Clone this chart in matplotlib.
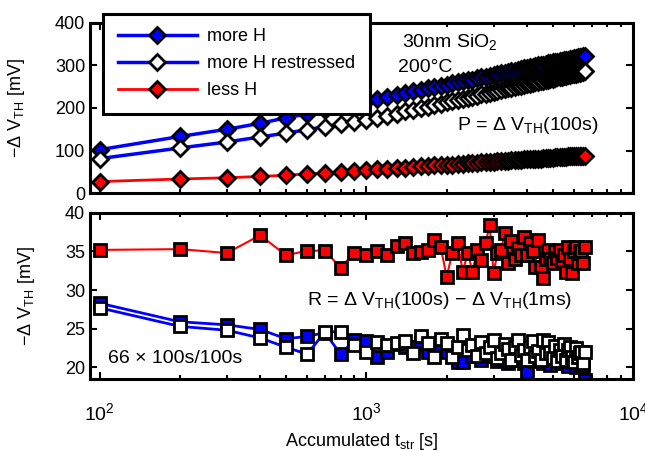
import numpy as np
import matplotlib
matplotlib.use("Agg")
import matplotlib.pyplot as plt
from matplotlib.ticker import LogLocator, NullFormatter

plt.rcParams['font.family'] = ['Liberation Sans', 'DejaVu Sans']
plt.rcParams['mathtext.fontset'] = 'custom'
plt.rcParams['mathtext.rm'] = 'Liberation Sans'
plt.rcParams['mathtext.it'] = 'Liberation Sans:italic'
plt.rcParams['mathtext.bf'] = 'Liberation Sans:bold'

# accumulated stress time, 66 x 100 s
t_str = np.arange(1, 67) * 100

# permanent part P = dVth(100s) [mV]
p_more_h = [102, 133, 150, 164, 177, 186, 195, 203, 210, 216, 221, 226, 231, 235,
            239, 243, 246, 249, 252, 255, 258, 260, 263, 265, 267, 270, 272, 274,
            276, 278, 280, 282, 283, 285, 287, 288, 290, 291, 293, 294, 296, 297,
            298, 300, 301, 302, 303, 305, 306, 307, 308, 309, 310, 311, 312, 313,
            314, 315, 316, 317, 318, 319, 320, 321, 322, 323]
p_restressed = [81, 106, 120, 132, 141, 149, 156, 162, 167, 172, 177, 182, 187, 192,
                196, 200, 203, 207, 210, 213, 216, 219, 222, 224, 227, 229, 232, 234,
                236, 238, 240, 242, 244, 246, 247, 249, 251, 252, 254, 256, 257, 258,
                260, 261, 263, 264, 265, 267, 268, 269, 270, 272, 273, 274, 275, 276,
                277, 278, 279, 280, 281, 282, 283, 284, 285, 286]
p_less_h = [27, 33, 36, 39, 42, 45, 47, 50, 52, 54, 56, 57, 59, 60,
            61, 63, 64, 65, 66, 67, 67, 68, 69, 70, 71, 71, 72, 73,
            73, 74, 75, 75, 76, 76, 77, 77, 78, 78, 79, 79, 80, 80,
            81, 81, 81, 82, 82, 83, 83, 83, 84, 84, 84, 85, 85, 85,
            86, 86, 86, 87, 87, 87, 88, 88, 88, 88]

# recoverable part R = dVth(100s) - dVth(1ms) [mV]
r_more_h = [28.3, 25.9, 25.5, 24.9, 23.7, 24.0, 24.5, 21.7, 23.5, 23.4, 21.3, 22.0,
            23.0, 22.6, 22.6, 23.2, 22.0, 23.0, 22.8, 22.0, 21.8, 20.7, 20.7, 22.5,
            21.5, 22.8, 21.0, 22.2, 21.5, 22.3, 20.8, 21.5, 22.0, 20.6, 21.8, 22.5,
            21.0, 21.9, 20.5, 19.4, 21.6, 22.3, 20.8, 21.2, 22.0, 20.5, 21.7, 22.2,
            20.3, 21.5, 22.0, 20.9, 21.4, 22.4, 20.6, 21.2, 20.2, 21.8, 20.8, 21.3,
            20.1, 21.5, 20.4, 20.9, 20.2, 18.3]
r_restressed = [27.7, 25.3, 24.8, 23.8, 22.6, 21.7, 24.6, 24.6, 22.9, 22.0, 23.3, 22.9,
                23.1, 23.4, 21.8, 24.0, 23.1, 21.3, 23.7, 23.1, 21.3, 22.6, 24.2, 22.2,
                22.9, 21.5, 23.3, 21.8, 22.6, 23.6, 21.2, 21.8, 23.0, 22.4, 21.0, 22.6,
                23.5, 21.6, 22.3, 21.0, 22.6, 23.4, 21.5, 22.1, 20.9, 23.6, 21.8, 23.3,
                22.0, 21.2, 22.7, 20.8, 22.2, 21.5, 23.0, 21.0, 22.3, 22.6, 21.4, 20.7,
                22.5, 21.3, 21.9, 22.0, 20.5, 22.0]
r_less_h = [35.2, 35.3, 34.8, 37.1, 34.5, 35.1, 35.1, 32.9, 34.8, 34.5, 35.1, 34.5,
            35.7, 36.1, 34.8, 34.9, 35.2, 36.5, 35.6, 31.7, 34.8, 36.1, 32.4, 34.8,
            32.4, 35.2, 33.9, 36.1, 38.4, 32.2, 34.8, 35.2, 37.4, 33.5, 36.3, 34.0,
            35.5, 34.5, 36.9, 34.5, 36.1, 35.0, 33.0, 36.5, 33.0, 31.6, 34.0, 35.2,
            34.0, 33.5, 35.0, 34.2, 35.2, 33.8, 34.5, 32.4, 35.6, 34.0, 32.2, 35.0,
            35.6, 33.5, 34.8, 35.0, 33.5, 35.6]

fig = plt.figure(figsize=(6.45, 4.5), dpi=100)
ax1 = fig.add_axes([0.1395, 0.571, 0.842, 0.378])
ax2 = fig.add_axes([0.1395, 0.158, 0.842, 0.369])

dkw = dict(marker='D', ms=8.5, mew=2, mec='k')
ax1.plot(t_str, p_more_h, color='b', lw=2.5, mfc='b', label='more H', **dkw)
ax1.plot(t_str, p_restressed, color='b', lw=2.5, mfc='w', label='more H restressed', **dkw)
ax1.plot(t_str, p_less_h, color='r', lw=2, mfc='r', label='less H', **dkw)

skw = dict(marker='s', ms=8, mew=2, mec='k')
ax2.plot(t_str, r_more_h, color='b', lw=2, mfc='b', **skw)
ax2.plot(t_str, r_restressed, color='b', lw=2, mfc='w', **skw)
ax2.plot(t_str, r_less_h, color='r', lw=1.5, mfc='r', **skw)

for ax in (ax1, ax2):
    ax.set_xscale('log')
    ax.set_xlim(92, 1e4)
    ax.xaxis.set_major_locator(LogLocator(base=10, numticks=5))
    ax.xaxis.set_minor_locator(LogLocator(base=10, subs=np.arange(2, 10), numticks=10))
    ax.xaxis.set_minor_formatter(NullFormatter())
    ax.tick_params(which='both', direction='in', top=True, right=True, labelsize=13)
    ax.tick_params(which='major', length=5, width=1.5)
    ax.tick_params(which='minor', length=3, width=1.5)
    for sp in ax.spines.values():
        sp.set_linewidth(2.2)
    ax.set_ylabel('\u2212\u0394 V$_{\\mathrm{TH}}$ [mV]', fontsize=13, labelpad=20)

ax1.set_ylim(0, 400)
ax1.set_yticks([0, 100, 200, 300, 400])
ax1.tick_params(axis='x', labelbottom=False)

ax2.set_ylim(18.5, 40)
ax2.set_yticks([20, 25, 30, 35, 40])
ax2.tick_params(axis='x', which='major', pad=17, labelsize=14)
ax2.set_xlabel('Accumulated t$_{\\mathrm{str}}$ [s]', fontsize=13, labelpad=5)

ax1.text(0.575, 0.859, '30nm SiO$_2$', transform=ax1.transAxes, fontsize=14)
ax1.text(0.567, 0.712, '200\u00b0C', transform=ax1.transAxes, fontsize=14)
ax1.text(0.676, 0.371, 'P = \u0394 V$_{\\mathrm{TH}}$(100s)', transform=ax1.transAxes, fontsize=14)
ax2.text(0.40, 0.446, 'R = \u0394 V$_{\\mathrm{TH}}$(100s) \u2212 \u0394 V$_{\\mathrm{TH}}$(1ms)',
         transform=ax2.transAxes, fontsize=14)
ax2.text(0.033, 0.096, '66 \u00d7 100s/100s', transform=ax2.transAxes, fontsize=14)

leg = ax1.legend(loc='upper left', bbox_to_anchor=(0.160, 0.969), bbox_transform=fig.transFigure,
                 borderaxespad=0, fontsize=13, numpoints=1, handlelength=4.4,
                 handletextpad=0.55, labelspacing=0.55, borderpad=0.8,
                 fancybox=False, framealpha=1, edgecolor='k')
leg.get_frame().set_linewidth(2.2)

fig.savefig('out.png', dpi=100)
